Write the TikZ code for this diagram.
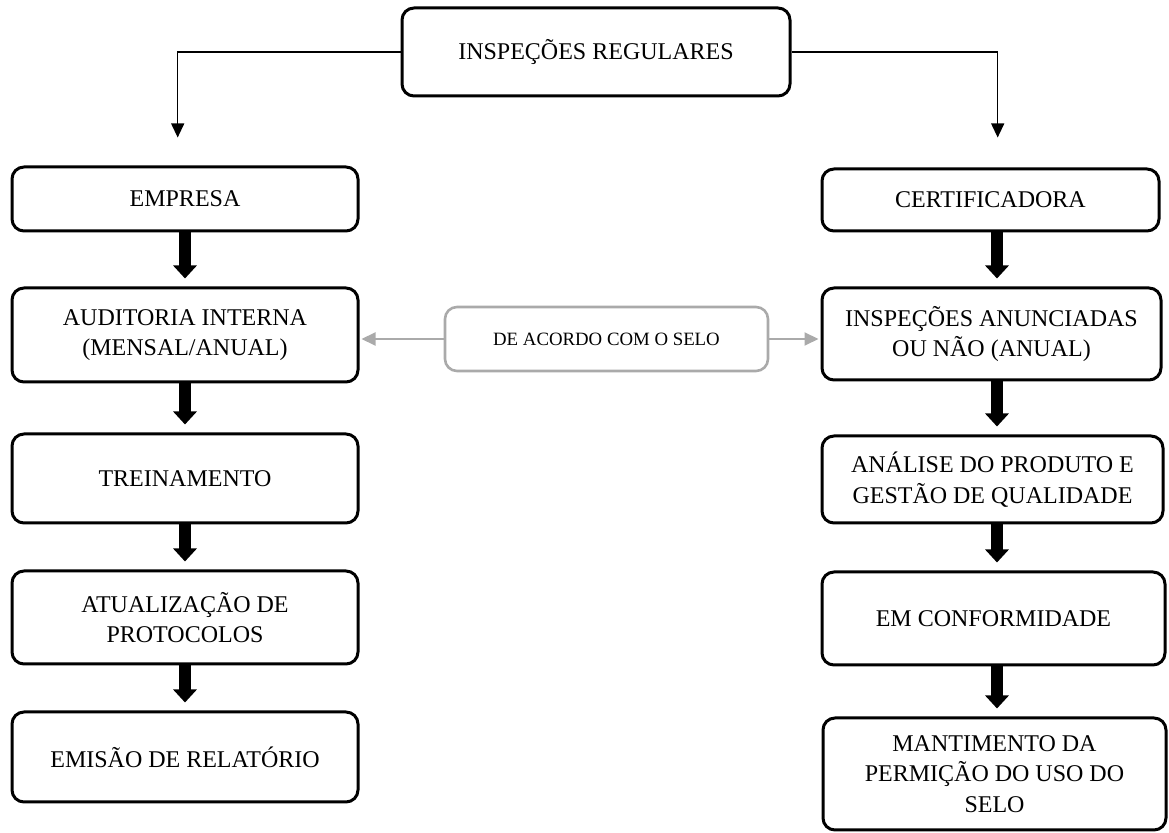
\documentclass[tikz,border=0pt]{standalone}
\usepackage{fontspec}
\setmainfont{Liberation Serif}
\usetikzlibrary{arrows.meta,calc}
\definecolor{lgray}{RGB}{170,170,170}
\begin{document}
\begin{tikzpicture}[x=0.5pt,y=-0.5pt,
  box/.style={draw, line width=1.5pt, rounded corners=6pt, align=center, inner sep=0pt,
    font=\fontsize{12}{15.3}\selectfont},
  graybox/.style={draw=lgray, line width=1.3pt, rounded corners=6pt, align=center, inner sep=0pt,
    font=\fontsize{9.4}{11}\selectfont},
  conn/.style={line width=0.6pt, -{Triangle[length=7pt,width=6.5pt]}},
  bigarrow/.style={line width=6pt, -{Triangle[length=6.5pt,width=11.5pt]}, shorten >=4pt},
  grayarrow/.style={draw=lgray, line width=1pt, -{Triangle[length=7pt,width=6.5pt]}, shorten >=1pt}
]
\useasboundingbox (0,0) rectangle (1169,833);

\node[box, minimum width=194pt, minimum height=44pt] (top) at (596,52) {INSPEÇÕES REGULARES};

% left column
\node[box, minimum width=173pt, minimum height=32pt] (emp) at (185,199) {EMPRESA};
\node[box, minimum width=173pt, minimum height=47pt] (aud) at (185,335) {AUDITORIA INTERNA\\(MENSAL/ANUAL)};
\node[box, minimum width=173pt, minimum height=44.5pt] (tre) at (185,478.5) {TREINAMENTO};
\node[box, minimum width=173pt, minimum height=46.5pt] (atu) at (185,617.5) {ATUALIZAÇÃO DE\\PROTOCOLOS};
\node[box, minimum width=173pt, minimum height=45pt] (emi) at (185,757) {EMISÃO DE RELATÓRIO};

% right column
\node[box, minimum width=168.5pt, minimum height=31pt] (cer) at (990.5,200) {CERTIFICADORA};
\node[box, minimum width=169.5pt, minimum height=46pt] (ins) at (991.5,334) {INSPEÇÕES ANUNCIADAS\\OU NÃO (ANUAL)};
\node[box, minimum width=170.5pt, minimum height=43.5pt] (ana) at (992.5,479.5) {ANÁLISE DO PRODUTO E\\GESTÃO DE QUALIDADE};
\node[box, minimum width=171.5pt, minimum height=46.5pt] (con) at (993.5,618.5) {EM CONFORMIDADE};
\node[box, minimum width=171.5pt, minimum height=56pt] (man) at (994.5,774) {MANTIMENTO DA\\PERMIÇÃO DO USO DO\\SELO};

% middle gray
\node[graybox, minimum width=161.5pt, minimum height=32pt] (sel) at (606.5,339) {DE ACORDO COM O SELO};

% top connectors
\draw[conn, shorten >=14pt] (top.west) -| ([xshift=-3.65pt]emp.north);
\draw[conn, shorten >=15pt] (top.east) -| ([xshift=3.6pt]cer.north);

% thick arrows
\draw[bigarrow] (emp.south) -- (aud.north);
\draw[bigarrow] (aud.south) -- (tre.north);
\draw[bigarrow] (tre.south) -- (atu.north);
\draw[bigarrow] (atu.south) -- (emi.north);

\draw[bigarrow] ([xshift=3.25pt]cer.south) -- ([xshift=3.25pt]cer.south |- ins.north);
\draw[bigarrow] ([xshift=2.75pt]ins.south) -- ([xshift=2.75pt]ins.south |- ana.north);
\draw[bigarrow] ([xshift=2.25pt]ana.south) -- ([xshift=2.25pt]ana.south |- con.north);
\draw[bigarrow] ([xshift=1.75pt]con.south) -- ([xshift=1.75pt]con.south |- man.north);

% gray arrows
\draw[grayarrow] (sel.west) -- (sel.west -| aud.east);
\draw[grayarrow] (sel.east) -- (sel.east -| ins.west);
\end{tikzpicture}
\end{document}
